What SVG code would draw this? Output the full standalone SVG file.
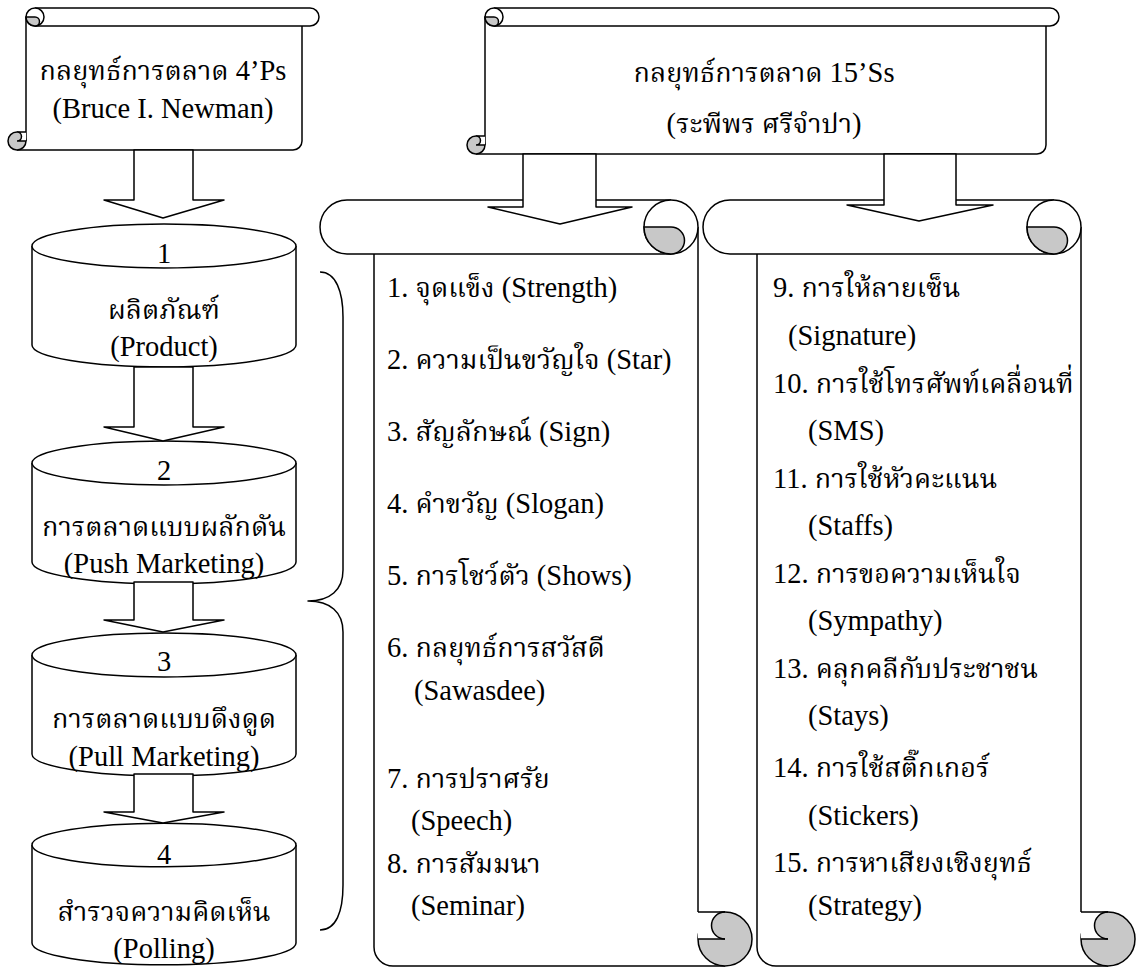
<svg xmlns="http://www.w3.org/2000/svg" xmlns:xlink="http://www.w3.org/1999/xlink" width="1138" height="967" viewBox="0 0 1138 967">
  <style>
    .ln { fill: none; stroke: #000; stroke-width: 1.5; stroke-linejoin: round; }
    .wf { fill: #fff; stroke: none; }
    .wfs { fill: #fff; stroke: #000; stroke-width: 1.5; stroke-linejoin: round; }
    .gf { fill: #c8c8c8; stroke: #000; stroke-width: 1.5; }
    .gn { fill: #c8c8c8; stroke: none; }
    text { font-family: "Liberation Serif", "Times New Roman", serif; font-size: 28.5px; fill: #000; }
    .th { font-family: "Norasi", "Noto Serif Thai", "Noto Sans Thai Looped", "Noto Sans Thai", "Loma", "Garuda", "Liberation Serif", serif; font-size: 27px; }
    .c { text-anchor: middle; }
  </style>
  <defs>
    <!-- vertical scroll, left edge at x=320, 432 wide, from y=200 to y=966 -->
    <g id="vscroll">
      <!-- body -->
      <path class="wf" d="M374,254 H698 V966 H393 A19 19 0 0 1 374,947 Z"/>
      <path class="ln" d="M374,254 V947 A19 19 0 0 0 393,966 H725"/>
      <path class="ln" d="M698,227 V912"/>
      <!-- top band -->
      <path class="wf" d="M347,200 H671 V254 H347 A27 27 0 0 1 347,200 Z"/>
      <path class="ln" d="M671,200 H347 A27 27 0 0 0 347,254 H671"/>
      <circle class="wfs" cx="671" cy="227" r="27"/>
      <path class="gf" d="M644,227 H671 A13.5 13.5 0 0 1 671,254 A27 27 0 0 1 644,227 Z"/>
      <!-- bottom roll -->
      <circle class="gf" cx="725" cy="939" r="27"/>
      <rect class="wf" x="698" y="912" width="27" height="27"/>
      <path class="gn" d="M725,912 A13.5 13.5 0 0 0 725,939 Z"/>
      <path class="ln" d="M725,912 A13.5 13.5 0 0 0 725,939"/>
      <path class="ln" d="M698,912 H725 M698,939 H725"/>
    </g>
    <!-- cylinder, centred on x=164, top ellipse centre at y=0 -->
    <g id="cyl">
      <path class="wfs" d="M32,0 V99 A132 22 0 0 0 296,99 V0"/>
      <ellipse class="wfs" cx="164" cy="0" rx="132" ry="22"/>
    </g>
  </defs>

  <!-- top left: 4'Ps scroll -->
  <g id="scroll-4ps">
    <path class="wf" d="M26,26 H302 V141 A9 9 0 0 1 293,150 H17 V132 H26 Z"/>
    <path class="ln" d="M26,17 V141"/>
    <path class="ln" d="M302,26 V141 A9 9 0 0 1 293,150 H17"/>
    <path class="wf" d="M35,8 H310 A9 9 0 0 1 310,26 H35 Z"/>
    <path class="ln" d="M35,8 H310 A9 9 0 0 1 310,26 H35"/>
    <circle class="wfs" cx="35" cy="17" r="9"/>
    <path class="gf" d="M26,17 H35 A4.5 4.5 0 0 1 35,26 A9 9 0 0 1 26,17 Z"/>
    <circle class="gf" cx="17" cy="141" r="9"/>
    <rect class="wf" x="17" y="132" width="9" height="9"/>
    <path class="gn" d="M17,132 A4.5 4.5 0 0 1 17,141 Z"/>
    <path class="ln" d="M17,132 A4.5 4.5 0 0 1 17,141 M17,132 H26 M17,141 H26"/>
    <text class="c" x="163" y="80"><tspan class="th">กลยุทธ์การตลาด</tspan> 4’Ps</text>
    <text class="c" x="163" y="118">(Bruce I. Newman)</text>
  </g>

  <!-- top right: 15'Ss scroll -->
  <g id="scroll-15ss">
    <path class="wf" d="M485,26 H1046 V145 A9 9 0 0 1 1037,154 H476 V136 H485 Z"/>
    <path class="ln" d="M485,17 V145"/>
    <path class="ln" d="M1046,26 V145 A9 9 0 0 1 1037,154 H476"/>
    <path class="wf" d="M494,8 H1050 A9 9 0 0 1 1050,26 H494 Z"/>
    <path class="ln" d="M494,8 H1050 A9 9 0 0 1 1050,26 H494"/>
    <circle class="wfs" cx="494" cy="17" r="9"/>
    <path class="gf" d="M485,17 H494 A4.5 4.5 0 0 1 494,26 A9 9 0 0 1 485,17 Z"/>
    <circle class="gf" cx="476" cy="145" r="9"/>
    <rect class="wf" x="476" y="136" width="9" height="9"/>
    <path class="gn" d="M476,136 A4.5 4.5 0 0 1 476,145 Z"/>
    <path class="ln" d="M476,136 A4.5 4.5 0 0 1 476,145 M476,136 H485 M476,145 H485"/>
    <text class="c" x="764" y="82"><tspan class="th">กลยุทธ์การตลาด</tspan> 15’Ss</text>
    <text class="c" x="764" y="133">(<tspan class="th">ระพีพร ศรีจำปา</tspan>)</text>
  </g>

  <!-- the four Ps -->
  <g id="p1-product">
    <use xlink:href="#cyl" href="#cyl" transform="translate(0,246)"/>
    <text class="c" x="164" y="263">1</text>
    <text class="c th" x="164" y="319">ผลิตภัณฑ์</text>
    <text class="c" x="164" y="356">(Product)</text>
  </g>
  <g id="p2-push">
    <use xlink:href="#cyl" href="#cyl" transform="translate(0,463)"/>
    <text class="c" x="164" y="480">2</text>
    <text class="c th" x="164" y="536">การตลาดแบบผลักดัน</text>
    <text class="c" x="164" y="573">(Push Marketing)</text>
  </g>
  <g id="p3-pull">
    <use xlink:href="#cyl" href="#cyl" transform="translate(0,655)"/>
    <text class="c" x="164" y="671">3</text>
    <text class="c th" x="164" y="728">การตลาดแบบดึงดูด</text>
    <text class="c" x="164" y="766">(Pull Marketing)</text>
  </g>
  <g id="p4-polling">
    <use xlink:href="#cyl" href="#cyl" transform="translate(0,845) scale(1,0.99)"/>
    <text class="c" x="164" y="864">4</text>
    <text class="c th" x="164" y="921">สำรวจความคิดเห็น</text>
    <text class="c" x="164" y="958">(Polling)</text>
  </g>

  <!-- the fifteen Ss, items 1-8 -->
  <g id="ss-1-8">
    <use xlink:href="#vscroll" href="#vscroll"/>
    <text x="387" y="297">1. <tspan class="th">จุดแข็ง</tspan> (Strength)</text>
    <text x="387" y="369">2. <tspan class="th">ความเป็นขวัญใจ</tspan> (Star)</text>
    <text x="387" y="441">3. <tspan class="th">สัญลักษณ์</tspan> (Sign)</text>
    <text x="387" y="513">4. <tspan class="th">คำขวัญ</tspan> (Slogan)</text>
    <text x="387" y="585">5. <tspan class="th">การโชว์ตัว</tspan> (Shows)</text>
    <text x="387" y="657">6. <tspan class="th">กลยุทธ์การสวัสดี</tspan></text>
    <text x="414" y="700">(Sawasdee)</text>
    <text x="387" y="788">7. <tspan class="th">การปราศรัย</tspan></text>
    <text x="411" y="830">(Speech)</text>
    <text x="387" y="873">8. <tspan class="th">การสัมมนา</tspan></text>
    <text x="411" y="915">(Seminar)</text>
  </g>

  <!-- the fifteen Ss, items 9-15 -->
  <g id="ss-9-15">
    <use xlink:href="#vscroll" href="#vscroll" transform="translate(383,0)"/>
    <text x="773" y="297">9. <tspan class="th">การให้ลายเซ็น</tspan></text>
    <text x="788" y="345">(Signature)</text>
    <text x="773" y="393">10. <tspan class="th">การใช้โทรศัพท์เคลื่อนที่</tspan></text>
    <text x="808" y="440">(SMS)</text>
    <text x="773" y="488">11. <tspan class="th">การใช้หัวคะแนน</tspan></text>
    <text x="808" y="535">(Staffs)</text>
    <text x="773" y="583">12. <tspan class="th">การขอความเห็นใจ</tspan></text>
    <text x="808" y="630">(Sympathy)</text>
    <text x="773" y="678">13. <tspan class="th">คลุกคลีกับประชาชน</tspan></text>
    <text x="808" y="725">(Stays)</text>
    <text x="773" y="777">14. <tspan class="th">การใช้สติ๊กเกอร์</tspan></text>
    <text x="808" y="825">(Stickers)</text>
    <text x="773" y="872">15. <tspan class="th">การหาเสียงเชิงยุทธ์</tspan></text>
    <text x="808" y="915">(Strategy)</text>
  </g>

  <!-- connectors: block arrows and brace -->
  <g id="connectors">
    <polygon class="wfs" points="134,150 193,150 193,200 224,200 163,218 104,200 134,200"/>
    <polygon class="wfs" points="134,367 193,367 193,427 224,427 163,441 104,427 134,427"/>
    <polygon class="wfs" points="134,582 193,582 193,620 224,620 163,632 104,620 134,620"/>
    <polygon class="wfs" points="134,774 193,774 193,812 224,812 163,823 104,812 134,812"/>
    <polygon class="wfs" points="523,154 596,154 596,207 632,207 560,224 488,207 523,207"/>
    <polygon class="wfs" points="884,154 956,154 956,205 993,205 919,221 847,205 884,205"/>
    <path class="ln" d="M320,272 C336,272 343,292 343,317 V570 C343,590 330,601 308,601 C330,601 343,612 343,632 V885 C343,912 336,930 320,930"/>
  </g>
</svg>
